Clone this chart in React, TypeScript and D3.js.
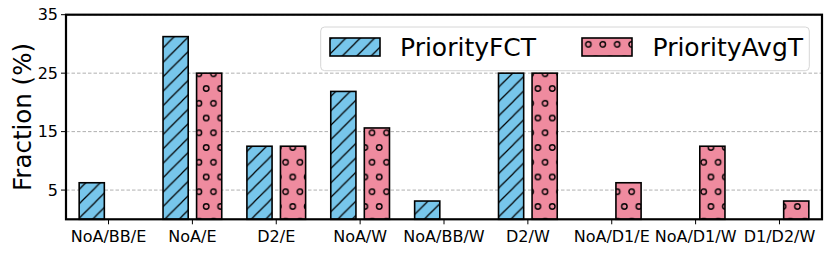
import React from 'react';
import * as d3 from 'd3';

// Fraction of flows per path type, PriorityFCT vs PriorityAvgT

const categories = ['NoA/BB/E', 'NoA/E', 'D2/E', 'NoA/W', 'NoA/BB/W', 'D2/W', 'NoA/D1/E', 'NoA/D1/W', 'D1/D2/W'];
const priorityFCT = [6.25, 31.25, 12.5, 21.875, 3.125, 25, 0, 0, 0];
const priorityAvgT = [0, 25, 12.5, 15.625, 0, 25, 6.25, 12.5, 3.125];
const yTicks = [5, 15, 25, 35];
const seriesNames = ['PriorityFCT', 'PriorityAvgT'];

const FONT = '"DejaVu Sans", sans-serif';
const BLUE = '#77C6EB';
const PINK = '#EF8B9F';

const App = () => {
  const width = 831;
  const height = 253;
  const plot = { left: 66, right: 822, top: 14.7, bottom: 219.3 };

  const x = d3.scaleLinear().domain([-0.507, 8.507]).range([plot.left, plot.right]);
  const y = d3.scaleLinear().domain([0, 35]).range([plot.bottom, plot.top]);

  const barW = 0.3;
  const offset = 0.2;

  // hatch tile sizes
  const hw = 14.42;
  const hh = 14.74;
  const lineC = 283;

  const series = [
    { values: priorityFCT, dx: -offset, fill: 'url(#hatchLines)' },
    { values: priorityAvgT, dx: offset, fill: 'url(#hatchCircles)' },
  ];

  return (
    <svg
      width={width}
      height={height}
      style={{ position: 'absolute', left: 0, top: 0, background: '#fff' }}
      fontFamily={FONT}
    >
      <defs>
        <pattern id="hatchLines" patternUnits="userSpaceOnUse" x={lineC - hw} y={0} width={hw} height={hw}>
          <rect width={hw} height={hw} fill={BLUE} />
          <g stroke="#000" strokeWidth={1.2}>
            <line x1={0} y1={hw} x2={hw} y2={0} />
            <line x1={-2} y1={2} x2={2} y2={-2} />
            <line x1={hw - 2} y1={hw + 2} x2={hw + 2} y2={hw - 2} />
          </g>
        </pattern>
        <pattern id="hatchCircles" patternUnits="userSpaceOnUse" x={199 - hw / 4} y={103.3 - hh / 2} width={hw} height={hh * 2}>
          <rect width={hw} height={hh * 2} fill={PINK} />
          <g stroke="#000" strokeWidth={1.4} fill="none">
            <circle cx={hw / 4} cy={hh / 2} r={2.7} />
            <circle cx={(3 * hw) / 4} cy={1.5 * hh} r={2.7} />
          </g>
        </pattern>
      </defs>

      {/* grid */}
      {yTicks.map(t => (
        <line key={'g' + t} x1={plot.left} x2={plot.right} y1={y(t)} y2={y(t)} stroke="#b0b0b0" strokeWidth={1} strokeDasharray="3.5,2" />
      ))}

      {/* bars */}
      {series.map((s, si) =>
        s.values.map((v, i) =>
          v > 0 ? (
            <rect
              key={si + '-' + i}
              x={x(i + s.dx - barW / 2)}
              y={y(v)}
              width={x(barW) - x(0)}
              height={y(0) - y(v)}
              fill={s.fill}
              stroke="#000"
              strokeWidth={1.6}
            />
          ) : null
        )
      )}

      {/* y axis */}
      {yTicks.map(t => (
        <g key={'y' + t}>
          <line x1={plot.left - 5} x2={plot.left} y1={y(t)} y2={y(t)} stroke="#000" strokeWidth={1} />
          <text x={plot.left - 8} y={y(t)} dy="0.35em" textAnchor="end" fontSize={16} fill="#000">{t}</text>
        </g>
      ))}

      {/* x axis */}
      {categories.map((c, i) => (
        <g key={'x' + i}>
          <line x1={x(i)} x2={x(i)} y1={plot.bottom} y2={plot.bottom + 5} stroke="#000" strokeWidth={1} />
          <text x={x(i)} y={241.5} textAnchor="middle" fontSize={16} fill="#000">{c}</text>
        </g>
      ))}

      <text transform={`translate(31,${(plot.top + plot.bottom) / 2}) rotate(-90)`} textAnchor="middle" fontSize={24.5} fill="#000">
        Fraction (%)
      </text>

      {/* frame */}
      <rect x={plot.left} y={plot.top} width={plot.right - plot.left} height={plot.bottom - plot.top} fill="none" stroke="#000" strokeWidth={2.2} />

      {/* legend */}
      <rect x={320.7} y={27} width={488.6} height={43.7} rx={4} fill="#fff" fillOpacity={0.8} stroke="#d6d6d6" strokeWidth={1} />
      <rect x={330} y={38} width={50} height={18} fill="url(#hatchLines)" stroke="#000" strokeWidth={1.6} />
      <text x={400} y={56} fontSize={25} fill="#000">{seriesNames[0]}</text>
      <rect x={582} y={38} width={50} height={18} fill="url(#hatchCircles)" stroke="#000" strokeWidth={1.6} />
      <text x={652.5} y={56} fontSize={25} fill="#000">{seriesNames[1]}</text>
    </svg>
  );
};

export default App;
